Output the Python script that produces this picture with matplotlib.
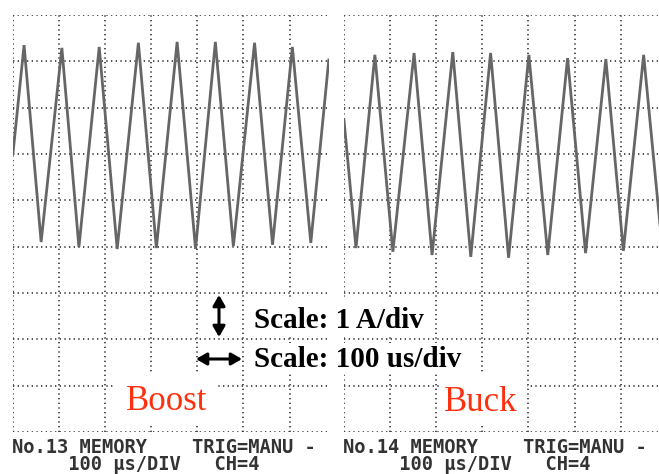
import matplotlib.pyplot as plt
from matplotlib.ticker import MultipleLocator
from matplotlib.patches import Rectangle

# Inductor current traces read off the two scope screens
# time in us (100 us/div), current in A (1 A/div), bottom grid line = 0
boost_t = [0, 24, 61, 106, 143, 187, 226, 272, 311, 356, 396, 439, 478, 524, 563, 606, 646, 685]
boost_i = [6.02, 8.35, 4.10, 8.29, 3.99, 8.31, 3.95, 8.40, 3.97, 8.42, 3.95, 8.42, 4.01, 8.40, 4.04, 8.31, 4.08, 8.03]

buck_t = [0, 26, 67, 106, 152, 191, 236, 275, 318, 357, 401, 442, 485, 524, 568, 606, 650, 690]
buck_i = [6.73, 3.97, 8.14, 3.89, 8.18, 3.82, 8.20, 3.78, 8.18, 3.76, 8.14, 3.82, 8.07, 3.86, 8.05, 3.91, 8.14, 4.0]

boost_footer = "No.13 MEMORY    TRIG=MANU -\n     100 \u00b5s/DIV   CH=4"
buck_footer = "No.14 MEMORY    TRIG=MANU -\n     100 \u00b5s/DIV   CH=4"

W, H = 659, 474
fig = plt.figure(figsize=(W / 100, H / 100), dpi=100)
fig.patch.set_facecolor('white')


def screen(left, width, t, i):
    ax = fig.add_axes([left / W, 1 - 432 / H, width / W, 417 / H])
    ax.set_xlim(0, width / 46.1 * 100)
    ax.set_ylim(0, 9)
    ax.xaxis.set_major_locator(MultipleLocator(100))
    ax.yaxis.set_major_locator(MultipleLocator(1))
    ax.tick_params(length=0, labelbottom=False, labelleft=False)
    for s in ax.spines.values():
        s.set_visible(False)
    ax.grid(True, color='#333333', lw=1.2, linestyle=(0, (0.8, 2.0)))
    ax.set_axisbelow(True)
    ax.plot(t, i, color='#666666', lw=2.0, solid_joinstyle='miter')
    return ax


screen(13, 316, boost_t, boost_i)
screen(344, 315, buck_t, buck_i)

# overlay in pixel coordinates for the annotations
ov = fig.add_axes([0, 0, 1, 1])
ov.set_xlim(0, W)
ov.set_ylim(H, 0)
ov.axis('off')
ov.patch.set_alpha(0)

for x0, y0, x1, y1 in [(247, 300, 432, 336), (247, 343, 462, 373),
                       (113, 372, 218, 424), (440, 373, 527, 424)]:
    ov.add_patch(Rectangle((x0, y0), x1 - x0, y1 - y0, facecolor='white', edgecolor='none'))

arrow = dict(arrowstyle='<|-|>,head_length=0.45,head_width=0.26', lw=2.2,
             color='black', shrinkA=0, shrinkB=0, mutation_scale=14)
ov.annotate('', xy=(219, 295), xytext=(219, 337), arrowprops=arrow)
ov.annotate('', xy=(196, 359), xytext=(242, 359), arrowprops=arrow)

serif = 'Liberation Serif'
ov.text(254, 328, 'Scale: 1 A/div', fontsize=21, fontweight='bold', family=serif, va='baseline')
ov.text(254, 367, 'Scale: 100 us/div', fontsize=21, fontweight='bold', family=serif, va='baseline')
ov.text(126, 410, 'Boost', fontsize=25, family=serif, color='#ff3010', va='baseline')
ov.text(444, 411, 'Buck', fontsize=25, family=serif, color='#ff3010', va='baseline')

mono = dict(family='DejaVu Sans Mono', fontsize=13.5, fontweight='bold', color='#333333',
            va='baseline', linespacing=0.82)
ov.text(12, 469.5, boost_footer, **mono)
ov.text(343, 469.5, buck_footer, **mono)

fig.savefig('out.png', dpi=100)
